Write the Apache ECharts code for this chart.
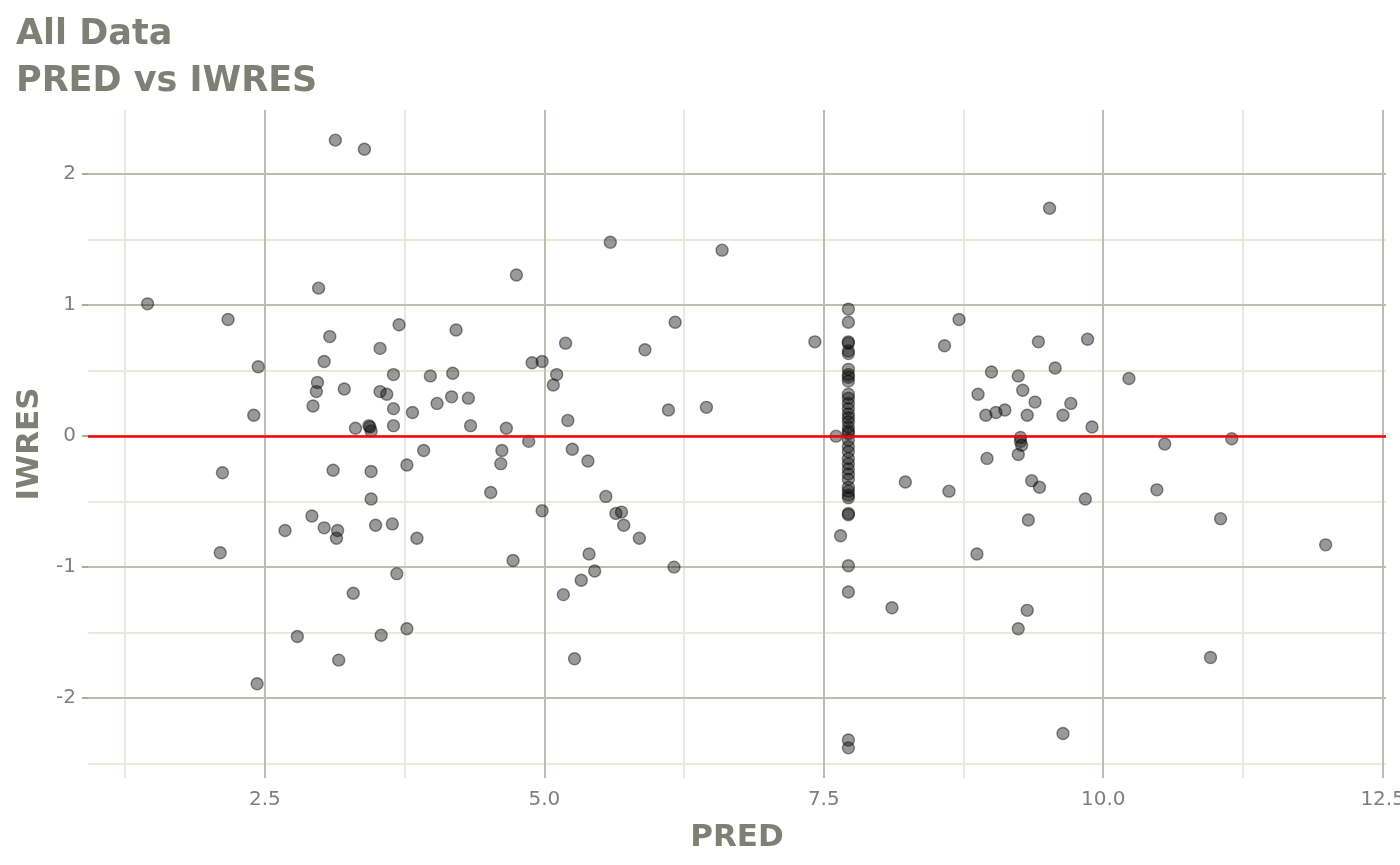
<!DOCTYPE html>
<html>
<head>
  <meta charset="utf-8">
  <title>PRED vs IWRES</title>
  <script src="https://cdn.jsdelivr.net/npm/echarts@6/dist/echarts.min.js"></script>
  <style>
    html, body { margin: 0; padding: 0; background: #fff; }
    #main { width: 1400px; height: 865px; }
  </style>
</head>
<body>
  <div id="main"></div>
  <script type="text/javascript">
    // values, pairs by index
    var pred = [
      1.45, 2.17, 2.44, 2.40, 2.12, 2.10, 2.43, 2.68, 2.79, 3.13, 3.39, 2.98, 3.08, 3.03, 2.97, 2.96, 2.93, 3.21,
      3.70, 3.53, 3.65, 3.53, 3.59, 3.65, 3.82, 3.31, 3.43, 3.44, 3.45, 3.65, 3.98, 4.04,
      3.11, 3.45, 3.77, 3.92, 3.45, 2.92, 3.03, 3.15, 3.14, 3.49, 3.64, 3.86, 3.68, 3.29, 3.54, 3.77, 3.16,
      4.75, 5.59, 6.59, 4.21, 5.19, 6.17, 5.90, 4.89, 4.98, 4.18, 5.11, 5.08, 4.17, 4.32, 6.11, 6.45, 4.34, 4.66, 5.21,
      4.62, 4.61, 4.86, 5.25, 5.39, 4.52, 4.98, 5.55, 5.64, 5.69, 5.71, 5.85, 4.72, 5.40, 5.45, 5.33, 5.17, 6.16, 5.27,
      7.42, 7.61, 7.65, 8.23, 8.11,
      7.72, 7.72, 7.72, 7.72, 7.72, 7.72, 7.72, 7.72, 7.72, 7.72, 7.72, 7.72, 7.72, 7.72, 7.72, 7.72, 7.72, 7.72, 7.72,
      7.72, 7.72, 7.72, 7.72, 7.72, 7.72, 7.72, 7.72, 7.72, 7.72, 7.72, 7.72, 7.72, 7.72, 7.72, 7.72, 7.72, 7.72, 7.72,
      9.52, 8.71, 8.58, 9.42, 9.86, 9.00, 9.24, 9.57, 10.23, 8.88, 9.28, 9.39, 9.71, 8.95, 9.04, 9.12, 9.32, 9.64, 9.90,
      9.26, 9.26, 9.27, 8.96, 9.24, 8.62, 9.36, 9.43, 9.84, 9.33, 8.87, 9.32, 9.24, 9.64,
      10.55, 11.15, 10.48, 11.05, 11.99, 10.96
    ];
    var iwres = [
      1.01, 0.89, 0.53, 0.16, -0.28, -0.89, -1.89, -0.72, -1.53, 2.26, 2.19, 1.13, 0.76, 0.57, 0.41, 0.34, 0.23, 0.36,
      0.85, 0.67, 0.47, 0.34, 0.32, 0.21, 0.18, 0.06, 0.08, 0.07, 0.04, 0.08, 0.46, 0.25,
      -0.26, -0.27, -0.22, -0.11, -0.48, -0.61, -0.70, -0.72, -0.78, -0.68, -0.67, -0.78, -1.05, -1.20, -1.52, -1.47, -1.71,
      1.23, 1.48, 1.42, 0.81, 0.71, 0.87, 0.66, 0.56, 0.57, 0.48, 0.47, 0.39, 0.30, 0.29, 0.20, 0.22, 0.08, 0.06, 0.12,
      -0.11, -0.21, -0.04, -0.10, -0.19, -0.43, -0.57, -0.46, -0.59, -0.58, -0.68, -0.78, -0.95, -0.90, -1.03, -1.10, -1.21, -1.00, -1.70,
      0.72, 0.00, -0.76, -0.35, -1.31,
      0.97, 0.87, 0.72, 0.71, 0.65, 0.63, 0.51, 0.47, 0.45, 0.42, 0.32, 0.29, 0.25, 0.21, 0.17, 0.14, 0.11, 0.07, 0.04,
      0.02, -0.03, -0.08, -0.12, -0.17, -0.21, -0.25, -0.29, -0.33, -0.39, -0.42, -0.45, -0.47, -0.59, -0.60, -0.99, -1.19, -2.32, -2.38,
      1.74, 0.89, 0.69, 0.72, 0.74, 0.49, 0.46, 0.52, 0.44, 0.32, 0.35, 0.26, 0.25, 0.16, 0.18, 0.20, 0.16, 0.16, 0.07,
      -0.01, -0.04, -0.07, -0.17, -0.14, -0.42, -0.34, -0.39, -0.48, -0.64, -0.90, -1.33, -1.47, -2.27,
      -0.06, -0.02, -0.41, -0.63, -0.83, -1.69
    ];

    var xTicks = [2.5, 5, 7.5, 10, 12.5];
    var xMinor = [1.25, 3.75, 6.25, 8.75, 11.25];
    var yTicks = [-2, -1, 0, 1, 2];
    var yMinor = [-2.5, -1.5, -0.5, 0.5, 1.5];
    var refLine = 0;

    var points = [];
    for (var i = 0; i < pred.length; i++) {
      points.push([pred[i], iwres[i]]);
    }

    var majorColor = '#bdbdb1';
    var minorColor = '#e9e9dd';
    var gridLines = [];
    xMinor.forEach(function (v) { gridLines.push({xAxis: v, lineStyle: {color: minorColor, width: 2, type: 'solid'}}); });
    yMinor.forEach(function (v) { gridLines.push({yAxis: v, lineStyle: {color: minorColor, width: 2, type: 'solid'}}); });
    xTicks.forEach(function (v) { gridLines.push({xAxis: v, lineStyle: {color: majorColor, width: 2, type: 'solid'}}); });
    yTicks.forEach(function (v) { gridLines.push({yAxis: v, lineStyle: {color: majorColor, width: 2, type: 'solid'}}); });

    var textGray = '#7f7f76';
    var chart = echarts.init(document.getElementById('main'));
    var option = {
      animation: false,
      backgroundColor: '#ffffff',
      title: {
        text: 'All Data\nPRED vs IWRES',
        left: 16,
        top: 11,
        padding: 0,
        textStyle: {
          fontFamily: 'DejaVu Sans',
          fontWeight: 'bold',
          fontSize: 35,
          lineHeight: 47,
          color: textGray
        }
      },
      grid: {left: 88, right: 14, top: 110, bottom: 87, outerBoundsMode: 'none', containLabel: false},
      xAxis: {
        type: 'value',
        min: 0.917,
        max: 12.53,
        name: 'PRED',
        nameLocation: 'middle',
        nameGap: 44,
        nameTextStyle: {fontFamily: 'DejaVu Sans', fontWeight: 'bold', fontSize: 31, color: textGray},
        axisLine: {show: false},
        splitLine: {show: false},
        axisTick: {show: true, customValues: xTicks, length: 6, lineStyle: {color: '#a9a99d', width: 2}},
        axisLabel: {
          customValues: xTicks,
          margin: 12,
          fontFamily: 'DejaVu Sans',
          fontSize: 20,
          color: '#7f7f7f',
          formatter: function (v) { return v.toFixed(1); }
        }
      },
      yAxis: {
        type: 'value',
        min: -2.61,
        max: 2.49,
        name: 'IWRES',
        nameLocation: 'middle',
        nameGap: 42,
        nameTextStyle: {fontFamily: 'DejaVu Sans', fontWeight: 'bold', fontSize: 31, color: textGray},
        axisLine: {show: false},
        splitLine: {show: false},
        axisTick: {show: true, customValues: yTicks, length: 6, lineStyle: {color: '#a9a99d', width: 2}},
        axisLabel: {
          customValues: yTicks,
          margin: 12,
          fontFamily: 'DejaVu Sans',
          fontSize: 20,
          color: '#7f7f7f',
          formatter: function (v) { return String(v); }
        }
      },
      series: [
        {
          // grid lines drawn through the axis scales
          type: 'line',
          data: [],
          silent: true,
          z: 1,
          markLine: {
            silent: true,
            z: 1,
            symbol: ['none', 'none'],
            label: {show: false},
            emphasis: {disabled: true},
            data: gridLines
          }
        },
        {
          name: 'IWRES',
          type: 'scatter',
          z: 3,
          symbolSize: 12,
          itemStyle: {
            color: 'rgba(0,0,0,0.5)',
            borderColor: 'rgba(0,0,0,0.55)',
            borderWidth: 1.4
          },
          data: points,
          markLine: {
            silent: true,
            z: 6,
            symbol: ['none', 'none'],
            label: {show: false},
            lineStyle: {color: '#ff0000', width: 2.5, type: 'solid'},
            data: [{yAxis: refLine}]
          }
        }
      ]
    };
    chart.setOption(option);
  </script>
</body>
</html>
